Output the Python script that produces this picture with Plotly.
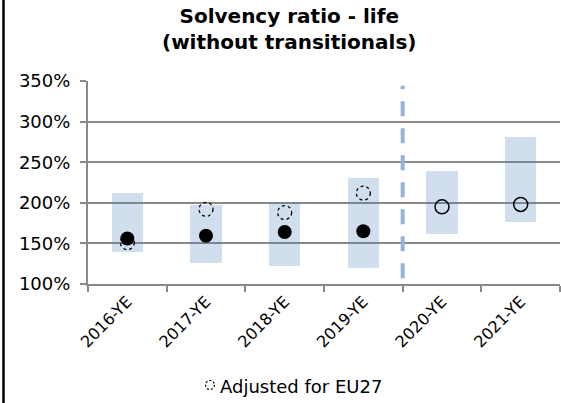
import plotly.graph_objects as go

# Solvency ratio (life, without transitionals), in percent
years = ["2016-YE", "2017-YE", "2018-YE", "2019-YE", "2020-YE", "2021-YE"]
range_low = [139, 126, 122, 120, 161, 176]
range_high = [212, 197, 201, 231, 239, 281]
median = [156, 159.5, 164, 165, 195, 198]
eu27_adjusted = [151, 192, 188, 212]
n_actual = 4  # 2016-2019 are actuals, 2020-2021 projections
y_ticks = [100, 150, 200, 250, 300, 350]
y_tick_labels = [f"{v}%" for v in y_ticks]

FONT = "DejaVu Sans"
GRID = "#898989"
BOX = "rgba(79,129,189,0.26)"

# plot-area geometry in pixels, used for paper-anchored decorations
PL, PR, PT, PB = 88, 560, 81, 284


def px_x(p):
    return (p - PL) / (PR - PL)


def px_y(p):
    return (PB - p) / (PB - PT)


fig = go.Figure()

# range boxes
fig.add_trace(go.Bar(
    x=years,
    base=range_low,
    y=[h - l for h, l in zip(range_high, range_low)],
    width=0.4,
    marker=dict(color=BOX, line=dict(width=0)),
    hoverinfo="skip",
    showlegend=False,
))

# actual medians (filled) and projections (open)
fig.add_trace(go.Scatter(
    x=years[:n_actual], y=median[:n_actual], mode="markers",
    marker=dict(symbol="circle", size=14, color="black"),
    showlegend=False,
))
fig.add_trace(go.Scatter(
    x=years[n_actual:], y=median[n_actual:], mode="markers",
    marker=dict(symbol="circle-open", size=14, color="black",
                line=dict(width=1.5, color="black")),
    showlegend=False,
))

# EU27-adjusted medians as dashed circles (pixel-sized, anchored at data)
r = 7
for i, v in enumerate(eu27_adjusted):
    fig.add_shape(
        type="circle", xref="x", yref="y",
        xsizemode="pixel", ysizemode="pixel",
        xanchor=i, yanchor=v,
        x0=-r, x1=r, y0=-r, y1=r,
        line=dict(color="black", width=1.3, dash="3px,3px"),
        layer="above",
    )

# separator between actuals and projections
fig.add_shape(
    type="line", xref="x", yref="y",
    x0=n_actual - 0.5, x1=n_actual - 0.5, y0=107, y1=344,
    line=dict(color="#95B3D7", width=4, dash="15px,12px"),
)

# left frame edge
fig.add_shape(
    type="line", xref="paper", yref="paper",
    x0=px_x(3.5), x1=px_x(3.5), y0=-1, y1=2,
    line=dict(color="black", width=2.5),
)

# chart title
fig.add_annotation(
    xref="paper", yref="paper",
    x=px_x(289), y=px_y(2),
    xanchor="center", yanchor="top",
    text="<b>Solvency ratio - life<br>(without transitionals)</b>",
    showarrow=False,
    font=dict(family=FONT, size=20, color="black"),
)

# legend entry: dashed circle + label
fig.add_shape(
    type="circle", xref="paper", yref="paper",
    xsizemode="pixel", ysizemode="pixel",
    xanchor=px_x(210), yanchor=px_y(385),
    x0=-4.5, x1=4.5, y0=-4.5, y1=4.5,
    line=dict(color="black", width=1.2, dash="2px,2px"),
)
fig.add_annotation(
    xref="paper", yref="paper",
    x=px_x(218), y=px_y(386),
    xanchor="left", yanchor="middle",
    text="Adjusted for EU27", showarrow=False,
    font=dict(family=FONT, size=18, color="black"),
)

fig.update_layout(
    width=561, height=403,
    margin=dict(l=PL, r=561 - PR, t=PT, b=403 - PB),
    paper_bgcolor="white", plot_bgcolor="white",
    font=dict(family=FONT, size=16, color="black"),
    showlegend=False,
    bargap=0,
)

fig.update_xaxes(
    type="category", categoryorder="array", categoryarray=years,
    range=[-0.5, len(years) - 0.5],
    showline=True, linecolor=GRID, linewidth=2,
    ticks="outside", tickson="boundaries", ticklen=6, tickcolor=GRID, tickwidth=2,
    tickangle=-45, showgrid=False,
    tickfont=dict(family=FONT, size=16, color="black"),
)
fig.update_yaxes(
    range=[100, 350], tickmode="array", tickvals=y_ticks, ticktext=y_tick_labels,
    showline=True, linecolor=GRID, linewidth=2,
    ticks="outside", ticklen=6, tickcolor=GRID, tickwidth=2,
    ticklabelstandoff=6,
    showgrid=True, gridcolor=GRID, gridwidth=2,
    zeroline=False,
    tickfont=dict(family=FONT, size=18, color="black"),
)

fig.write_html("out.html")
